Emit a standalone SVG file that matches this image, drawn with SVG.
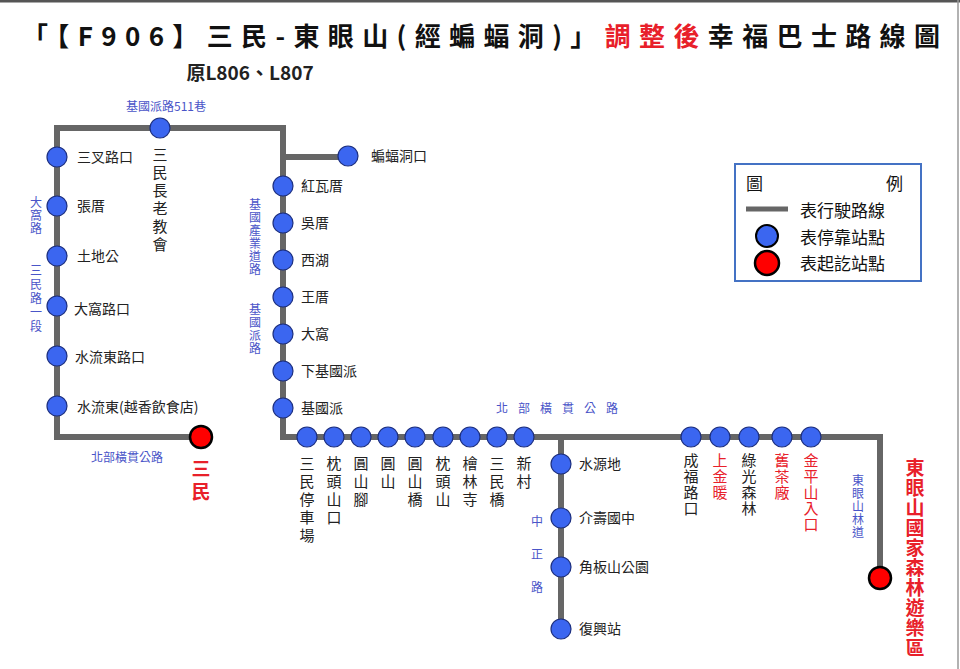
<svg xmlns="http://www.w3.org/2000/svg" width="960" height="669" viewBox="0 0 960 669">
<style>
text{font-family:"Noto Sans CJK TC","Noto Sans",sans-serif}
.v{writing-mode:vertical-rl;text-orientation:upright}
.st{fill:#3b66f0;stroke:#1c2f80;stroke-width:1.2}
.term{fill:#f00;stroke:#000;stroke-width:2.5}
.lb{font-size:14px;fill:#222;dominant-baseline:middle}
.vl{font-size:15px;fill:#222;letter-spacing:3px}
.vs{font-size:15px;fill:#222;letter-spacing:1px}
.vr{font-size:15px;fill:#e8202a;letter-spacing:1px}
.rd{font-size:12px;fill:#4a55c8}
.ln{fill:none;stroke:#666;stroke-width:6;stroke-linejoin:miter}
</style>
<rect width="960" height="669" fill="#fff"/>
<line x1="0" y1="1" x2="960" y2="1" stroke="#555" stroke-width="3"/>
<line x1="958" y1="0" x2="958" y2="669" stroke="#999" stroke-width="1.5"/>
<g id="title">
<text x="22" y="46" textLength="918" lengthAdjust="spacing" font-size="26" font-weight="bold" fill="#111">「【F906】三民-東眼山(經蝙蝠洞)」<tspan fill="#e8202a">調整後</tspan>幸福巴士路線圖</text>
<text x="250" y="80" text-anchor="middle" font-size="19" font-weight="bold" fill="#222">原L806、L807</text>
</g>
<g id="connectors">
<polyline class="ln" points="201,437 57,437 57,128 283,128 283,437 880,437 880,578"/>
<line class="ln" x1="283" y1="157" x2="348" y2="157"/>
<line class="ln" x1="561" y1="437" x2="561" y2="629"/>
</g>
<g id="road-labels">
<text class="rd" x="166" y="111" text-anchor="middle">基國派路511巷</text>
<text class="rd v" x="36" y="196" letter-spacing="1">大窩路</text>
<text class="rd v" x="36" y="264" letter-spacing="2">三民路一段</text>
<text class="rd v" x="255" y="198" letter-spacing="1">基國產業道路</text>
<text class="rd v" x="255" y="303" letter-spacing="1">基國派路</text>
<text class="rd" x="127" y="462" text-anchor="middle">北部橫貫公路</text>
<text class="rd" x="562" y="413" text-anchor="middle" letter-spacing="10">北部橫貫公路</text>
<text class="rd v" x="537" y="515" letter-spacing="21">中正路</text>
<text class="rd v" x="858" y="474" letter-spacing="1">東眼山林道</text>
</g>
<g id="stops-left">
<circle class="st" cx="57" cy="157" r="10"/><text class="lb" x="77" y="158">三叉路口</text>
<circle class="st" cx="57" cy="206" r="10"/><text class="lb" x="77" y="207">張厝</text>
<circle class="st" cx="57" cy="256" r="10"/><text class="lb" x="77" y="257">土地公</text>
<circle class="st" cx="57" cy="306" r="10"/><text class="lb" x="74" y="310">大窩路口</text>
<circle class="st" cx="57" cy="356" r="10"/><text class="lb" x="75" y="358">水流東路口</text>
<circle class="st" cx="57" cy="406" r="10"/><text class="lb" x="77" y="408">水流東(越香飲食店)</text>
<circle class="st" cx="160" cy="128" r="10"/>
<text class="vl v" x="160" y="147">三民長老教會</text>
</g>
<g id="stop-sanmin">
<circle class="term" cx="201" cy="437" r="11"/>
<text class="v" x="201" y="459" font-size="19" font-weight="bold" fill="#e8202a" letter-spacing="4">三民</text>
</g>
<g id="stops-mid">
<circle class="st" cx="348" cy="156" r="10"/><text class="lb" x="371" y="157">蝙蝠洞口</text>
<circle class="st" cx="283" cy="186" r="10"/><text class="lb" x="301" y="187">紅瓦厝</text>
<circle class="st" cx="283" cy="223" r="10"/><text class="lb" x="301" y="224">吳厝</text>
<circle class="st" cx="283" cy="260" r="10"/><text class="lb" x="301" y="261">西湖</text>
<circle class="st" cx="283" cy="297" r="10"/><text class="lb" x="301" y="298">王厝</text>
<circle class="st" cx="283" cy="334" r="10"/><text class="lb" x="301" y="335">大窩</text>
<circle class="st" cx="283" cy="371" r="10"/><text class="lb" x="301" y="372">下基國派</text>
<circle class="st" cx="283" cy="408" r="10"/><text class="lb" x="301" y="409">基國派</text>
</g>
<g id="stops-bottom">
<circle class="st" cx="307" cy="437" r="10"/><circle class="st" cx="334" cy="437" r="10"/><circle class="st" cx="361" cy="437" r="10"/><circle class="st" cx="388" cy="437" r="10"/><circle class="st" cx="415" cy="437" r="10"/><circle class="st" cx="443" cy="437" r="10"/><circle class="st" cx="470" cy="437" r="10"/><circle class="st" cx="497" cy="437" r="10"/><circle class="st" cx="524" cy="437" r="10"/>
<text class="vl v" x="307" y="456">三民停車場</text>
<text class="vl v" x="334" y="456">枕頭山口</text>
<text class="vl v" x="361" y="456">圓山腳</text>
<text class="vl v" x="388" y="456">圓山</text>
<text class="vl v" x="415" y="456">圓山橋</text>
<text class="vl v" x="443" y="456">枕頭山</text>
<text class="vl v" x="470" y="456">檜林寺</text>
<text class="vl v" x="497" y="456">三民橋</text>
<text class="vl v" x="524" y="456">新村</text>
</g>
<g id="stops-branch">
<circle class="st" cx="561" cy="464" r="10"/><text class="lb" x="579" y="465">水源地</text>
<circle class="st" cx="561" cy="518" r="10"/><text class="lb" x="579" y="519">介壽國中</text>
<circle class="st" cx="561" cy="567" r="10"/><text class="lb" x="579" y="568">角板山公園</text>
<circle class="st" cx="561" cy="629" r="10"/><text class="lb" x="579" y="630">復興站</text>
</g>
<g id="stops-right">
<circle class="st" cx="691" cy="437" r="10"/><circle class="st" cx="720" cy="437" r="10"/><circle class="st" cx="749" cy="437" r="10"/><circle class="st" cx="782" cy="437" r="10"/><circle class="st" cx="811" cy="437" r="10"/>
<text class="vs v" x="691" y="453">成福路口</text>
<text class="vr v" x="720" y="453">上金暖</text>
<text class="vs v" x="749" y="453">綠光森林</text>
<text class="vr v" x="782" y="453">舊茶廠</text>
<text class="vr v" x="811" y="453">金平山入口</text>
<circle cx="880" cy="437" r="3" fill="#666"/>
</g>
<g id="stop-dongyanshan">
<circle class="term" cx="880" cy="578" r="11"/>
<text class="v" x="915" y="458" font-size="19" font-weight="bold" fill="#e8202a" letter-spacing="1">東眼山國家森林遊樂區</text>
</g>
<g id="legend">
<rect x="735" y="164" width="186" height="117" fill="#fff" stroke="#4472c4" stroke-width="2"/>
<g font-size="17" fill="#111">
<text x="746" y="190">圖</text><text x="886" y="190">例</text>
<text x="800" y="217">表行駛路線</text>
<text x="800" y="244">表停靠站點</text>
<text x="800" y="270">表起訖站點</text>
</g>
<line x1="746" y1="209" x2="788" y2="209" stroke="#666" stroke-width="5"/>
<circle cx="767" cy="236" r="11" fill="#3b66f0" stroke="#000" stroke-width="2"/>
<circle cx="767" cy="263" r="12" fill="#f00" stroke="#000" stroke-width="2.5"/>
</g>
</svg>
